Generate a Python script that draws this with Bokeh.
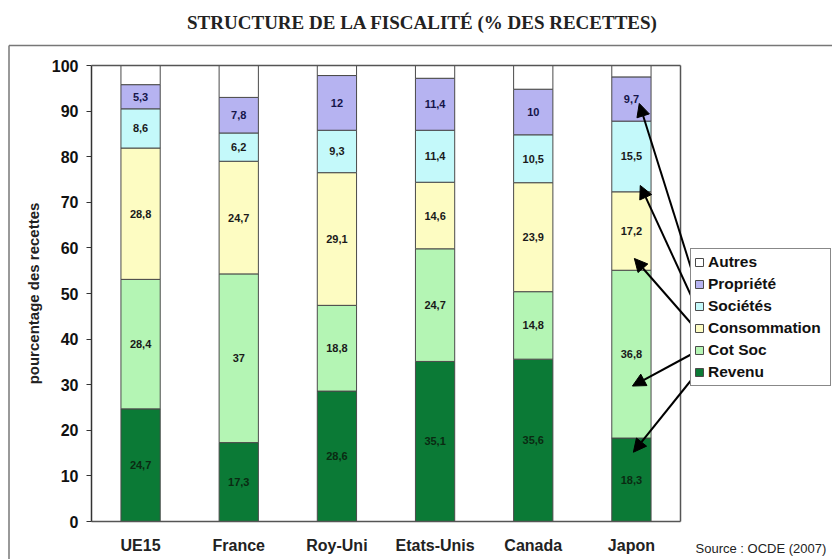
from bokeh.plotting import figure
from bokeh.models import (Range1d, FixedTicker, ColumnDataSource, Legend, LegendItem,
                          Arrow, NormalHead, Label)
from bokeh.embed import file_html
from bokeh.resources import INLINE
from bokeh.core.properties import value

# ---------------- data ----------------
categories = ["UE15", "France", "Roy-Uni", "Etats-Unis", "Canada", "Japon"]
revenu = [24.7, 17.3, 28.6, 35.1, 35.6, 18.3]
cot_soc = [28.4, 37.0, 18.8, 24.7, 14.8, 36.8]
consommation = [28.8, 24.7, 29.1, 14.6, 23.9, 17.2]
societes = [8.6, 6.2, 9.3, 11.4, 10.5, 15.5]
propriete = [5.3, 7.8, 12.0, 11.4, 10.0, 9.7]
autres = [4.2, 7.0, 2.2, 2.8, 5.2, 2.5]
series_names = ["Revenu", "Cot Soc", "Consommation", "Sociétés", "Propriété", "Autres"]
y_ticks = [0, 10, 20, 30, 40, 50, 60, 70, 80, 90, 100]
title_text = "STRUCTURE DE LA FISCALITÉ (% DES RECETTES)"
y_label = "pourcentage des recettes"
source_text = "Source : OCDE (2007)"

# ---------------- styles / layout ----------------
colors = ["#0b7a36", "#b4f5b4", "#fdfcc2", "#c4f9fa", "#b6b3f1", "#ffffff"]
label_colors = ["#0a2a12", "#1a1a1a", "#1a1a1a", "#1a1a1a", "#15154a", "#1a1a1a"]
FONT = "Liberation Sans"

W, H = 832, 559
X0, X6 = 91.0, 680.0        # pixel x of data x=0 and x=6
Y0, Y100 = 521.0, 65.0      # pixel y of data y=0 and y=100
PXU = (X6 - X0) / 6.0
PYU = (Y0 - Y100) / 100.0

def dx(px):  # pixel x -> data x
    return (px - X0) / PXU

def dy(py):  # pixel y -> data y
    return (Y0 - py) / PYU

p = figure(width=W, height=H, output_backend="svg", toolbar_location=None,
           x_range=Range1d(dx(0), dx(W)), y_range=Range1d(dy(H), dy(0)),
           min_border=0, min_border_left=0, min_border_right=0,
           min_border_top=0, min_border_bottom=0, tools="")
p.title.visible = False
p.outline_line_color = None
p.background_fill_color = "white"
p.border_fill_color = "white"
p.xgrid.visible = False
p.ygrid.visible = False

xs = [i + 0.5 for i in range(len(categories))]
series = [revenu, cot_soc, consommation, societes, propriete, autres]
keys = ["s%d" % i for i in range(len(series))]
data = {"x": xs}
for k, s in zip(keys, series):
    data[k] = s
src = ColumnDataSource(data)

rends = p.vbar_stack(keys, x="x", width=0.4, source=src, fill_color=colors,
                     line_color="#4a4a4a", line_width=1)

# segment labels
lx, ly, lt, lc = [], [], [], []
for i in range(len(categories)):
    base = 0.0
    for j, s in enumerate(series):
        v = s[i]
        if j < 5:
            lx.append(xs[i])
            ly.append(base + v / 2)
            lt.append(("%g" % v).replace(".", ","))
            lc.append(label_colors[j])
        base += v
p.text(x="x", y="y", text="t", text_color="c",
       source=ColumnDataSource(dict(x=lx, y=ly, t=lt, c=lc)),
       text_align="center", text_baseline="middle", text_font=value(FONT),
       text_font_style="bold", text_font_size="11px")

# axes (fixed inside the frame)
p.yaxis.fixed_location = 0
p.yaxis.bounds = (0, 100)
p.yaxis.ticker = FixedTicker(ticks=y_ticks)
p.yaxis.axis_label = y_label
p.yaxis.axis_label_text_font = FONT
p.yaxis.axis_label_text_font_style = "bold"
p.yaxis.axis_label_text_font_size = "15px"
p.yaxis.axis_label_text_color = "#222222"
p.yaxis.axis_label_standoff = 7
p.yaxis.major_label_text_font = FONT
p.yaxis.major_label_text_font_style = "bold"
p.yaxis.major_label_text_font_size = "16px"
p.yaxis.major_label_text_color = "#111111"
p.yaxis.major_tick_out = 5
p.yaxis.major_tick_in = 0
p.yaxis.minor_tick_out = 0
p.yaxis.minor_tick_in = 0
p.yaxis.major_label_standoff = 8
p.yaxis.axis_line_color = "#333333"
p.yaxis.axis_line_width = 1.5
p.yaxis.major_tick_line_color = "#333333"

p.xaxis.fixed_location = 0
p.xaxis.bounds = (0, 6)
p.xaxis.ticker = FixedTicker(ticks=xs)
p.xaxis.major_label_overrides = {x: c for x, c in zip(xs, categories)}
p.xaxis.axis_line_color = "#555555"
p.xaxis.axis_line_width = 1.5
p.xaxis.major_tick_line_color = None
p.xaxis.minor_tick_line_color = None
p.xaxis.major_label_text_font = FONT
p.xaxis.major_label_text_font_style = "bold"
p.xaxis.major_label_text_font_size = "16px"
p.xaxis.major_label_text_color = "#222222"
p.xaxis.major_label_standoff = 9

# plot box (top and right)
box_col = "#555555"
for (x0, y0, x1, y1) in [(0, 100, 6, 100), (6, 0, 6, 100)]:
    p.add_layout(Arrow(end=None, x_start=x0, y_start=y0, x_end=x1, y_end=y1,
                       line_color=box_col, line_width=1.5))

# outer border
ob_x, ob_y = dx(8.5), dy(45)
p.add_layout(Arrow(end=None, x_start=ob_x, y_start=ob_y, x_end=ob_x, y_end=dy(H + 10),
                   line_color="#777777", line_width=1.5))
p.add_layout(Arrow(end=None, x_start=ob_x, y_start=ob_y, x_end=dx(W + 10), y_end=ob_y,
                   line_color="#777777", line_width=1.5))

# legend
items = [LegendItem(label=n, renderers=[r]) for n, r in reversed(list(zip(series_names, rends)))]
legend = Legend(items=items, location=(690, H - 386), margin=0, padding=3, spacing=2,
                label_height=20, glyph_height=10, glyph_width=10, label_standoff=4,
                label_width=119, label_text_font=FONT, label_text_font_style="bold",
                label_text_font_size="15.5px", label_text_color="#111111",
                border_line_color="#111111", border_line_width=1,
                background_fill_color="white", background_fill_alpha=1.0)
p.add_layout(legend)

# arrows from legend to Japon segments
jap = len(categories) - 1
head_frac = [0.83, 0.31, 0.15, 0.09, 0.40]
head_dx = [0.02, 0.01, 0.03, 0.09, 0.08]
for j in range(5):
    bottom = sum(series[k][jap] for k in range(j))
    hy = bottom + head_frac[j] * series[j][jap]
    hx = xs[jap] + head_dx[j]
    row = 5 - j
    ty = dy(263 + 22 * row)
    tx = dx(696)
    p.add_layout(Arrow(end=NormalHead(size=13, fill_color="black", line_color="black"),
                       x_start=tx, y_start=ty, x_end=hx, y_end=hy,
                       line_color="black", line_width=2))

# title and source
p.add_layout(Label(x=dx(422), y=dy(22), text=title_text, text_align="center",
                   text_baseline="middle", text_font="Liberation Serif",
                   text_font_style="bold", text_font_size="19px", text_color="#222222"))
p.add_layout(Label(x=dx(695), y=dy(548), text=source_text, text_align="left",
                   text_baseline="middle", text_font=FONT, text_font_size="13px",
                   text_color="#222222"))

open("out.html", "w").write(file_html(p, INLINE))
